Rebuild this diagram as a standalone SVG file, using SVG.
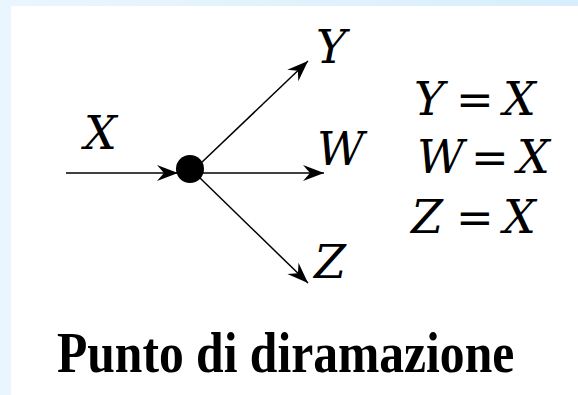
<svg xmlns="http://www.w3.org/2000/svg" width="578" height="395" viewBox="0 0 578 395">
<defs>
<linearGradient id="bg" x1="0" y1="0" x2="1" y2="0">
<stop offset="0" stop-color="#eaf6fe"/>
<stop offset="1" stop-color="#d8eefc"/>
</linearGradient>
<marker id="arr" markerUnits="userSpaceOnUse" markerWidth="24" markerHeight="20" viewBox="-22 -10 24 20" refX="0" refY="0" orient="auto">
<path d="M0,0 L-21,-8 L-14,0 L-21,8 Z" fill="#000"/>
</marker>
<style>
.ln{stroke:#000;stroke-width:1.5;fill:none}
.var{font-family:"DejaVu Serif",serif;font-style:italic;font-size:46px;fill:#000}
.eq{font-family:"DejaVu Serif",serif;font-size:45px;fill:#000}
.ttl{font-family:"Liberation Serif","Times New Roman",serif;font-weight:bold;font-size:57px;fill:#000}
</style>
</defs>
<rect x="0" y="0" width="578" height="395" fill="url(#bg)"/>
<rect x="11" y="6" width="567" height="389" fill="#fff"/>
<g id="connectors">
<line class="ln" x1="66" y1="173" x2="178" y2="173" marker-end="url(#arr)"/>
<line class="ln" x1="190" y1="173" x2="324" y2="173" marker-end="url(#arr)"/>
<line class="ln" x1="200" y1="164" x2="308" y2="61" marker-end="url(#arr)"/>
<line class="ln" x1="200" y1="178" x2="308" y2="283" marker-end="url(#arr)"/>
</g>
<g id="branch-point">
<circle cx="190" cy="169" r="14" fill="#000"/>
</g>
<g id="labels">
<text class="var" x="84" y="149">X</text>
<text class="var" x="316" y="63">Y</text>
<text class="var" x="317" y="165">W</text>
<text class="var" x="314" y="278">Z</text>
</g>
<g id="equations">
<text class="var" x="414" y="115">Y</text><text class="eq" x="456" y="115">=</text><text class="var" x="503" y="115">X</text>
<text class="var" x="417" y="173">W</text><text class="eq" x="471" y="173">=</text><text class="var" x="517" y="173">X</text>
<text class="var" x="411" y="233">Z</text><text class="eq" x="456" y="233">=</text><text class="var" x="503" y="233">X</text>
</g>
<g id="title">
<text class="ttl" transform="translate(57,372) scale(0.87,1)">Punto di diramazione</text>
</g>
</svg>
